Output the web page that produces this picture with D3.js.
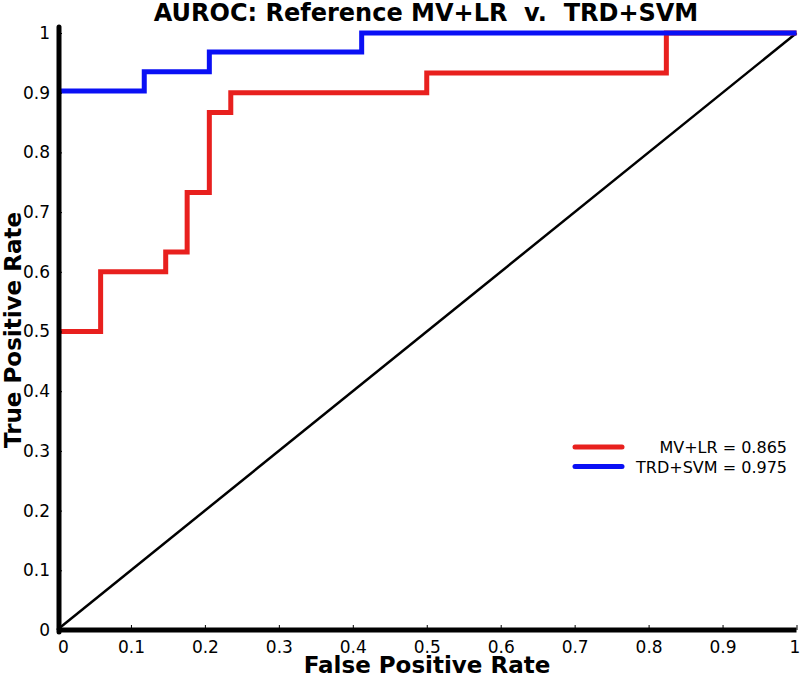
<!DOCTYPE html>
<html><head><meta charset="utf-8">
<script src="https://cdn.jsdelivr.net/npm/d3@7"></script>
<style>body{margin:0;background:#fff}svg{display:block}text{font-family:"DejaVu Sans",sans-serif}</style>
</head><body><svg id="c" width="800" height="679"></svg>
<script>
const xTicks = [0,0.1,0.2,0.3,0.4,0.5,0.6,0.7,0.8,0.9,1];
const yTicks = [0,0.1,0.2,0.3,0.4,0.5,0.6,0.7,0.8,0.9,1];
const mvlrFpr = [0,0.059,0.059,0.147,0.147,0.176,0.176,0.206,0.206,0.235,0.235,0.5,0.5,0.824,0.824,1];
const mvlrTpr = [0.5,0.5,0.6,0.6,0.633,0.633,0.733,0.733,0.867,0.867,0.9,0.9,0.933,0.933,1,1];
const svmFpr = [0,0.118,0.118,0.206,0.206,0.412,0.412,1];
const svmTpr = [0.903,0.903,0.935,0.935,0.968,0.968,1,1];
const chanceFpr = [0,1];
const chanceTpr = [0,1];
const seriesNames = ["MV+LR = 0.865","TRD+SVM = 0.975"];
const seriesColors = ["#e8201e","#0a10f5"];

const svg = d3.select("#c");
const x = d3.scaleLinear().domain([0,1]).range([57,796.5]);
const y = d3.scaleLinear().domain([0,1]).range([630,33]);
const line = d3.line().x(d=>x(d[0])).y(d=>y(d[1]));

// diagonal
svg.append("path").datum(d3.zip(chanceFpr,chanceTpr)).attr("d",line)
  .attr("fill","none").attr("stroke","#000").attr("stroke-width",2.5);
// curves
[[mvlrFpr,mvlrTpr],[svmFpr,svmTpr]].forEach((s,i)=>{
  svg.append("path").datum(d3.zip(s[0],s[1])).attr("d",line)
    .attr("fill","none").attr("stroke",seriesColors[i]).attr("stroke-width",5)
    .attr("stroke-linejoin","miter");
});

// axes
const fmt = d=>d===0?"0":d===1?"1":d3.format(".1f")(d);
const xAxis = d3.axisBottom(x).tickValues(xTicks).tickSize(-5).tickPadding(11).tickFormat(fmt);
const gx = svg.append("g").attr("transform",`translate(0,${y(0)})`).call(xAxis);
gx.select(".domain").remove();
gx.selectAll("line").attr("stroke","#000").attr("stroke-width",1);
gx.selectAll("text").attr("font-size",17).attr("fill","#000");
gx.selectAll(".tick").filter(d=>d===0).select("text").attr("dx",6);
gx.selectAll(".tick").filter(d=>d===1).select("text").attr("dx",-2);

const yAxis = d3.axisLeft(y).tickValues(yTicks).tickSize(-5).tickPadding(7).tickFormat(fmt);
const gy = svg.append("g").attr("transform",`translate(${x(0)},0)`).call(yAxis);
gy.select(".domain").remove();
gy.selectAll("line").attr("stroke","#000").attr("stroke-width",1);
gy.selectAll("text").attr("font-size",17).attr("fill","#000");

// spines
svg.append("line").attr("x1",x(0)+2).attr("x2",x(0)+2).attr("y1",y(0)+2).attr("y2",y(1.01))
  .attr("stroke","#000").attr("stroke-width",5).attr("stroke-linecap","round");
svg.append("line").attr("x1",x(0)).attr("x2",x(1)).attr("y1",y(0)).attr("y2",y(0))
  .attr("stroke","#000").attr("stroke-width",5);

// title & labels
svg.append("text").attr("x",426).attr("y",21).attr("text-anchor","middle")
  .attr("font-size",24).attr("font-weight","bold")
  .style("white-space","pre").text("AUROC: Reference MV+LR  v.  TRD+SVM");
svg.append("text").attr("x",427).attr("y",673).attr("text-anchor","middle")
  .attr("font-size",23).attr("font-weight","bold").text("False Positive Rate");
svg.append("text").attr("transform","translate(21,330) rotate(-90)").attr("text-anchor","middle")
  .attr("font-size",23).attr("font-weight","bold").text("True Positive Rate");

// legend
seriesNames.forEach((n,i)=>{
  const ly = 447 + i*19.5;
  svg.append("line").attr("x1",575).attr("x2",622).attr("y1",ly).attr("y2",ly)
    .attr("stroke",seriesColors[i]).attr("stroke-width",5).attr("stroke-linecap","round");
  svg.append("text").attr("x",787).attr("y",ly+6).attr("text-anchor","end")
    .attr("font-size",16).attr("fill","#000").text(n);
});
</script></body></html>
